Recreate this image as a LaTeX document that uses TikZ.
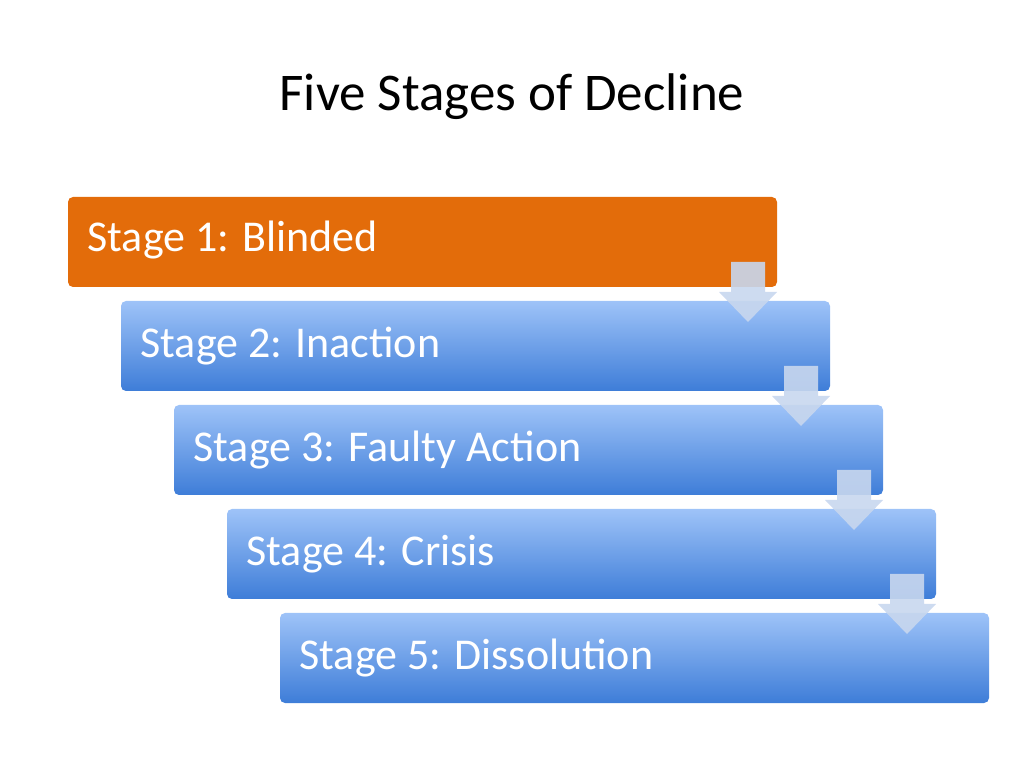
\documentclass[tikz,border=0pt]{standalone}
\usepackage{fontspec}
\setmainfont{Carlito}
\begin{document}
\begin{tikzpicture}[x=1pt,y=1pt,
  bluebox/.style={rounded corners=5pt,top color=blue!20!cyan!30!white!60!blue!45!white,bottom color=blue!70!cyan!60,draw=none},
  lbl/.style={anchor=west,font=\fontsize{44}{50}\selectfont,text=white},
  arr/.style={fill=gray!25!blue!15!white,opacity=0.85,draw=none}]
\useasboundingbox (0,0) rectangle (1024,768);
\node[font=\fontsize{53}{60}\selectfont] (title) at (512,671) {Five Stages of Decline};
\definecolor{topb}{HTML}{9EC3F8}
\definecolor{botb}{HTML}{3E7DD8}
\definecolor{orng}{HTML}{E36C0A}
\definecolor{arrc}{HTML}{C8D7EE}
\fill[orng,rounded corners=5pt] (68,481) rectangle (777,571);
\node[lbl] (s1) at (84,528) {Stage 1: Blinded};
\foreach \i/\t in {1/Stage 2: Inaction,2/Stage 3: Faulty Action,3/Stage 4: Crisis,4/Stage 5: Dissolution}{
  \pgfmathsetmacro\xa{68+53*\i}
  \pgfmathsetmacro\ya{481-104*\i}
  \shade[rounded corners=5pt,top color=topb,bottom color=botb] (\xa,\ya) rectangle (\xa+709,\ya+90);
  \node[lbl] (s\i) at (\xa+16,\ya+45) {\t};
}
\foreach \i in {0,1,2,3}{
  \pgfmathsetmacro\cx{748+53*\i}
  \pgfmathsetmacro\ty{506-104*\i}
  \fill[arrc,opacity=0.9] (\cx-17,\ty) -- (\cx+17,\ty) -- (\cx+17,\ty-30) -- (\cx+29,\ty-30) -- (\cx,\ty-60) -- (\cx-29,\ty-30) -- (\cx-17,\ty-30) -- cycle;
}
\end{tikzpicture}
\end{document}
